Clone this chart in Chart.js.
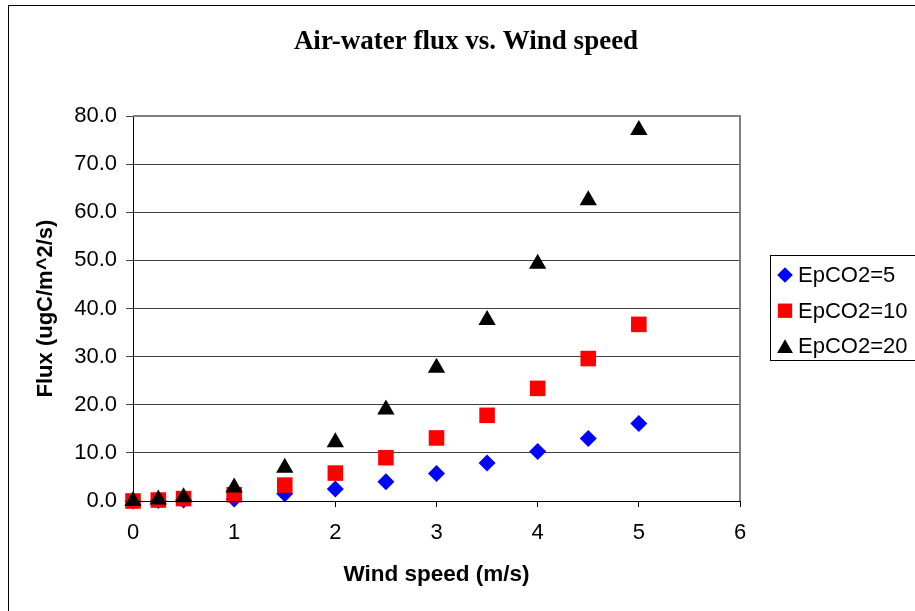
<!DOCTYPE html>
<html>
<head>
<meta charset="utf-8">
<script src="https://cdn.jsdelivr.net/npm/chart.js@4.4.1/dist/chart.umd.min.js"></script>
<style>
  html, body { margin: 0; padding: 0; background: #fff; overflow: hidden; }
  #wrap { position: relative; width: 915px; height: 611px; }
</style>
</head>
<body>
<div id="wrap"><canvas id="fluxChart" width="915" height="611"></canvas></div>
<script>
// Datos del gráfico
const windSpeed = [0, 0.25, 0.5, 1, 1.5, 2, 2.5, 3, 3.5, 4, 4.5, 5];
const fluxEp5 = [0, 0.1, 0.2, 0.4, 1.5, 2.5, 4.0, 5.7, 7.9, 10.3, 13.0, 16.1];
const fluxEp10 = [0, 0.2, 0.5, 1.3, 3.3, 5.8, 9.0, 13.1, 17.8, 23.4, 29.6, 36.7];
const fluxEp20 = [0, 0.3, 0.8, 2.8, 6.9, 12.2, 19.0, 27.7, 37.6, 49.3, 62.5, 77.1];
const seriesLabels = ['EpCO2=5', 'EpCO2=10', 'EpCO2=20'];
const chartTitle = 'Air-water flux vs. Wind speed';
const xTitle = 'Wind speed (m/s)';
const yTitle = 'Flux (ugC/m^2/s)';

const toPoints = (ys) => windSpeed.map((x, i) => ({ x: x, y: ys[i] }));

// Marco exterior, borde del área y título
const framePlugin = {
    id: 'frame',
    beforeDraw(chart) {
        const ctx = chart.ctx;
        ctx.save();
        ctx.fillStyle = '#fff';
        ctx.fillRect(0, 0, chart.width, chart.height);
        ctx.strokeStyle = '#000';
        ctx.lineWidth = 1;
        ctx.strokeRect(8.5, 5.5, 1200, 1200);
        ctx.restore();
    },
    beforeDatasetsDraw(chart) {
        const { ctx, chartArea } = chart;
        ctx.save();
        ctx.strokeStyle = '#808080';
        ctx.lineWidth = 2;
        ctx.beginPath();
        ctx.moveTo(chartArea.left, chartArea.top);
        ctx.lineTo(chartArea.right, chartArea.top);
        ctx.lineTo(chartArea.right, chartArea.bottom);
        ctx.stroke();
        ctx.restore();
    },
    afterDraw(chart) {
        const ctx = chart.ctx;
        ctx.save();
        ctx.fillStyle = '#000';
        ctx.font = 'bold 27px "Liberation Serif", "Times New Roman", serif';
        ctx.textAlign = 'center';
        ctx.textBaseline = 'middle';
        ctx.fillText(chartTitle, 466, 42);
        ctx.restore();
    }
};

// Leyenda con recuadro a la derecha
const boxLegendPlugin = {
    id: 'boxLegend',
    afterDraw(chart) {
        const ctx = chart.ctx;
        const left = 770.5, top = 255.5, w = 160, h = 105;
        ctx.save();
        ctx.strokeStyle = '#000';
        ctx.lineWidth = 1;
        ctx.strokeRect(left, top, w, h);
        ctx.font = '22px "Liberation Sans", Arial, sans-serif';
        ctx.textBaseline = 'middle';
        ctx.textAlign = 'left';
        chart.data.datasets.forEach((ds, i) => {
            const y = 275 + i * 35.7;
            ctx.fillStyle = ds.backgroundColor;
            ctx.strokeStyle = ds.backgroundColor;
            Chart.helpers.drawPoint(ctx, {
                pointStyle: ds.pointStyle,
                radius: ds.pointRadius * 0.92,
                borderWidth: 0,
                rotation: 0
            }, 785, ds.pointStyle === 'triangle' ? y + 2 : y);
            ctx.fillStyle = '#000';
            ctx.fillText(ds.label, 798, y + 1);
        });
        ctx.restore();
    }
};

const ctx = document.getElementById('fluxChart').getContext('2d');
new Chart(ctx, {
    type: 'scatter',
    data: {
        datasets: [{
            label: seriesLabels[0],
            data: toPoints(fluxEp5),
            pointStyle: 'rectRot',
            pointRadius: 8.5,
            backgroundColor: '#0000ff',
            borderColor: '#0000ff',
            borderWidth: 0,
            clip: false,
            order: 2
        }, {
            label: seriesLabels[1],
            data: toPoints(fluxEp10),
            pointStyle: 'rect',
            pointRadius: 11,
            backgroundColor: '#ff0000',
            borderColor: '#ff0000',
            borderWidth: 0,
            clip: false,
            order: 1
        }, {
            label: seriesLabels[2],
            data: toPoints(fluxEp20),
            pointStyle: 'triangle',
            pointRadius: 10,
            backgroundColor: '#000000',
            borderColor: '#000000',
            borderWidth: 0,
            clip: false,
            order: 0
        }]
    },
    options: {
        responsive: false,
        animation: false,
        events: [],
        layout: {
            padding: { left: 0, top: 116, right: 175, bottom: 0 }
        },
        plugins: {
            legend: { display: false },
            tooltip: { enabled: false }
        },
        scales: {
            x: {
                type: 'linear',
                min: 0,
                max: 6,
                afterFit: (scale) => { scale.height = 110; },
                border: { display: true, color: '#000', width: 1, z: 1 },
                grid: { drawOnChartArea: false, drawTicks: true, tickLength: 6, color: '#000' },
                ticks: {
                    stepSize: 1,
                    padding: 13,
                    color: '#000',
                    font: { family: '"Liberation Sans", Arial, sans-serif', size: 22 },
                    maxRotation: 0
                },
                title: {
                    display: true,
                    text: xTitle,
                    color: '#000',
                    padding: { top: 0, bottom: 23 },
                    font: { family: '"Liberation Sans", Arial, sans-serif', size: 22.5, weight: 'bold' }
                }
            },
            y: {
                min: 0,
                max: 80,
                afterFit: (scale) => { scale.width = 133; },
                border: { display: true, color: '#000', width: 1 },
                grid: { color: '#404040', lineWidth: 1, tickLength: 7 },
                ticks: {
                    stepSize: 10,
                    padding: 9,
                    color: '#000',
                    font: { family: '"Liberation Sans", Arial, sans-serif', size: 22 },
                    callback: (v) => v.toFixed(1)
                },
                title: {
                    display: true,
                    text: yTitle,
                    color: '#000',
                    padding: { top: 33, bottom: 0 },
                    font: { family: '"Liberation Sans", Arial, sans-serif', size: 22, weight: 'bold' }
                }
            }
        }
    },
    plugins: [framePlugin, boxLegendPlugin]
});
</script>
</body>
</html>
